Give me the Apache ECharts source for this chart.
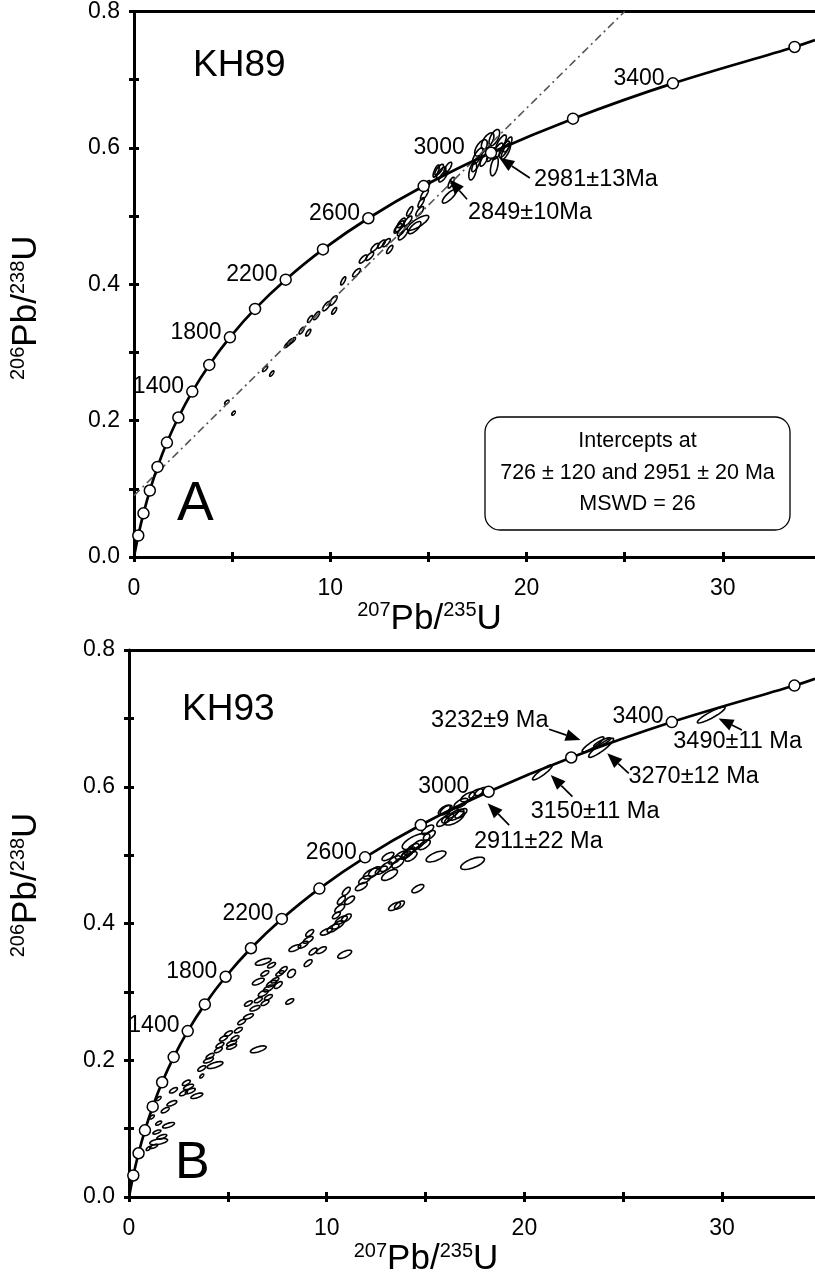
<!DOCTYPE html>
<html>
<head>
<meta charset="utf-8">
<script src="https://cdn.jsdelivr.net/npm/echarts@6/dist/echarts.min.js"></script>
<style>
html, body { margin: 0; padding: 0; background: #fff; }
#chart { width: 815px; height: 1279px; }
</style>
</head>
<body>
<div id="chart"></div>
<script>
// concordia: markers every 200 Ma, curve starts at origin and runs to the frame edge
const concAges = [0, 200, 400, 600, 800, 1000, 1200, 1400, 1600, 1800, 2000, 2200, 2400, 2600, 2800, 3000, 3200, 3400, 3600, null];
const conc207 = [0, 0.218, 0.483, 0.806, 1.199, 1.677, 2.260, 2.970, 3.835, 4.887, 6.168, 7.729, 9.629, 11.94, 14.76, 18.19, 22.37, 27.46, 33.66, 34.7];
const conc206 = [0, 0.0315, 0.0640, 0.0975, 0.1321, 0.1678, 0.2046, 0.2426, 0.2817, 0.3221, 0.3638, 0.4067, 0.4511, 0.4968, 0.5440, 0.5927, 0.6428, 0.6946, 0.7480, 0.758];
const labeledAges = [1400, 1800, 2200, 2600, 3000, 3400];

const xTicks = [0, 5, 10, 15, 20, 25, 30];
const xLabels = [0, 10, 20, 30];
const yTicks = [0, 0.1, 0.2, 0.3, 0.4, 0.5, 0.6, 0.7, 0.8];
const yLabels = [0, 0.2, 0.4, 0.6, 0.8];

// discordia through 726 and 2951 Ma (KH89)
const discordiaA = [[0, 0.090], [25.0, 0.80]];

// error ellipses: [207Pb/235U, 206Pb/238U, half-range x, half-range y, rho]
const ellipsesA = [
  [5.07, 0.211, 0.09, 0.003, 0.6], [4.73, 0.227, 0.11, 0.003, 0.6],
  [6.68, 0.276, 0.13, 0.004], [7.02, 0.269, 0.11, 0.004],
  [7.95, 0.315, 0.16, 0.005], [7.80, 0.311, 0.13, 0.004], [8.10, 0.318, 0.13, 0.004],
  [8.54, 0.332, 0.13, 0.005], [8.88, 0.329, 0.13, 0.005], [8.97, 0.349, 0.13, 0.005],
  [9.30, 0.354, 0.16, 0.006], [9.81, 0.368, 0.2, 0.007], [10.15, 0.376, 0.2, 0.007],
  [10.2, 0.361, 0.13, 0.005], [10.66, 0.405, 0.13, 0.006], [11.34, 0.417, 0.2, 0.006],
  [11.68, 0.437, 0.2, 0.006], [12.01, 0.441, 0.2, 0.006], [12.27, 0.454, 0.2, 0.006],
  [12.61, 0.459, 0.2, 0.006], [12.86, 0.461, 0.2, 0.006], [13.03, 0.451, 0.16, 0.006],
  [13.54, 0.485, 0.22, 0.008], [13.45, 0.482, 0.2, 0.007], [13.62, 0.490, 0.2, 0.007],
  [13.62, 0.478, 0.2, 0.007], [13.71, 0.473, 0.24, 0.008], [13.96, 0.493, 0.2, 0.007],
  [14.05, 0.507, 0.16, 0.007], [14.56, 0.507, 0.2, 0.007], [14.47, 0.490, 0.55, 0.011, 0.8],
  [14.30, 0.483, 0.32, 0.009], [14.63, 0.520, 0.16, 0.007], [14.80, 0.532, 0.2, 0.008],
  [14.89, 0.544, 0.2, 0.008], [15.40, 0.566, 0.16, 0.009], [15.65, 0.563, 0.24, 0.009],
  [15.75, 0.558, 0.22, 0.008], [15.55, 0.568, 0.22, 0.008], [15.99, 0.571, 0.2, 0.008],
  [16.16, 0.549, 0.16, 0.008], [16.07, 0.529, 0.36, 0.010, 0.8],
  [17.68, 0.600, 0.32, 0.012, 0.6], [18.02, 0.610, 0.32, 0.012, 0.6], [18.36, 0.615, 0.27, 0.012, 0.6],
  [18.53, 0.595, 0.27, 0.012], [18.87, 0.598, 0.27, 0.012], [17.51, 0.588, 0.27, 0.012],
  [17.85, 0.583, 0.22, 0.01], [18.19, 0.590, 0.22, 0.01], [18.36, 0.573, 0.2, 0.014, 0.5],
  [17.26, 0.566, 0.2, 0.013, 0.5], [17.43, 0.576, 0.22, 0.011], [18.70, 0.607, 0.27, 0.012],
  [18.95, 0.595, 0.24, 0.012], [19.04, 0.605, 0.22, 0.011]
];

const ellipsesB = [
  [1.50, 0.081, 0.45, 0.0045, 0.5], [1.25, 0.074, 0.2, 0.003], [0.99, 0.071, 0.12, 0.003],
  [1.66, 0.088, 0.25, 0.0035], [1.41, 0.095, 0.2, 0.003], [2.00, 0.105, 0.3, 0.004],
  [1.50, 0.108, 0.15, 0.003], [1.16, 0.117, 0.12, 0.003], [1.83, 0.127, 0.2, 0.004],
  [2.17, 0.137, 0.25, 0.004], [1.50, 0.144, 0.12, 0.003], [2.25, 0.156, 0.2, 0.004],
  [3.01, 0.161, 0.25, 0.004], [2.90, 0.167, 0.2, 0.004], [3.10, 0.155, 0.25, 0.004],
  [3.43, 0.148, 0.3, 0.004], [2.76, 0.152, 0.2, 0.004], [3.68, 0.177, 0.1, 0.003],
  [3.68, 0.188, 0.2, 0.004], [4.35, 0.193, 0.4, 0.005], [4.02, 0.200, 0.25, 0.004],
  [4.10, 0.206, 0.2, 0.004], [4.52, 0.215, 0.2, 0.004], [4.60, 0.222, 0.2, 0.004],
  [4.78, 0.232, 0.2, 0.004], [5.03, 0.239, 0.2, 0.004], [5.19, 0.225, 0.25, 0.004],
  [5.36, 0.232, 0.2, 0.004], [5.19, 0.220, 0.25, 0.004], [5.53, 0.244, 0.2, 0.004],
  [5.70, 0.256, 0.2, 0.004], [6.04, 0.264, 0.25, 0.004], [6.54, 0.216, 0.4, 0.005],
  [6.04, 0.283, 0.2, 0.004], [6.37, 0.276, 0.25, 0.004], [6.54, 0.288, 0.2, 0.004],
  [6.88, 0.284, 0.2, 0.004], [6.79, 0.298, 0.25, 0.005], [7.05, 0.305, 0.25, 0.005],
  [7.21, 0.312, 0.25, 0.005], [7.38, 0.317, 0.2, 0.004], [7.63, 0.327, 0.2, 0.004],
  [6.54, 0.315, 0.3, 0.005], [6.87, 0.327, 0.2, 0.004], [7.55, 0.310, 0.2, 0.005],
  [8.22, 0.327, 0.2, 0.006, 0.4], [8.13, 0.286, 0.2, 0.004], [7.05, 0.292, 0.2, 0.004],
  [7.80, 0.332, 0.2, 0.005], [7.21, 0.339, 0.2, 0.004], [6.79, 0.344, 0.4, 0.005],
  [9.06, 0.342, 0.2, 0.005], [8.39, 0.364, 0.3, 0.005], [8.81, 0.369, 0.25, 0.005],
  [9.06, 0.376, 0.25, 0.005], [9.14, 0.386, 0.2, 0.005], [9.31, 0.359, 0.2, 0.005],
  [9.73, 0.361, 0.25, 0.005], [10.91, 0.355, 0.35, 0.006], [9.98, 0.388, 0.3, 0.005],
  [10.32, 0.393, 0.3, 0.006], [10.57, 0.398, 0.3, 0.006], [10.74, 0.405, 0.3, 0.006],
  [10.99, 0.408, 0.25, 0.006], [10.49, 0.412, 0.2, 0.005], [10.66, 0.422, 0.25, 0.006],
  [10.74, 0.434, 0.2, 0.006], [11.16, 0.434, 0.25, 0.006], [10.99, 0.447, 0.2, 0.006],
  [11.75, 0.454, 0.3, 0.006], [11.92, 0.464, 0.3, 0.006], [12.25, 0.473, 0.4, 0.008],
  [12.42, 0.476, 0.3, 0.007], [12.76, 0.478, 0.3, 0.006], [13.18, 0.471, 0.4, 0.008],
  [13.01, 0.483, 0.3, 0.007], [13.43, 0.425, 0.3, 0.006], [13.68, 0.427, 0.25, 0.006],
  [14.61, 0.451, 0.3, 0.006], [13.10, 0.498, 0.3, 0.006], [13.43, 0.493, 0.3, 0.006],
  [13.60, 0.488, 0.3, 0.007], [13.77, 0.500, 0.3, 0.006], [14.10, 0.503, 0.3, 0.007],
  [14.20, 0.506, 0.25, 0.006], [14.00, 0.500, 0.25, 0.006], [14.36, 0.510, 0.3, 0.007],
  [14.61, 0.515, 0.3, 0.007], [14.27, 0.498, 0.3, 0.007], [14.52, 0.520, 0.7, 0.012],
  [14.94, 0.515, 0.3, 0.007], [15.19, 0.529, 0.3, 0.007], [15.53, 0.498, 0.5, 0.008],
  [17.38, 0.488, 0.6, 0.009], [15.11, 0.537, 0.3, 0.007], [15.87, 0.549, 0.3, 0.007],
  [16.12, 0.554, 0.3, 0.007], [16.37, 0.561, 0.3, 0.007], [16.46, 0.554, 0.5, 0.010],
  [16.04, 0.566, 0.3, 0.007], [16.79, 0.561, 0.3, 0.007], [15.95, 0.566, 0.3, 0.007],
  [16.54, 0.559, 0.4, 0.008], [16.79, 0.576, 0.35, 0.007], [17.13, 0.585, 0.35, 0.007],
  [17.55, 0.590, 0.35, 0.007], [17.80, 0.593, 0.3, 0.006],
  [20.91, 0.621, 0.5, 0.011, 0.9],
  [23.47, 0.662, 0.55, 0.011, 0.9], [23.88, 0.657, 0.63, 0.014, 0.9], [23.94, 0.665, 0.43, 0.0066, 0.85],
  [29.45, 0.705, 0.7, 0.0117, 0.9]
];

// age annotations: text anchor (x, y), arrow from (x, y) to (x, y)
const notesA = ['2981±13Ma', '2849±10Ma'];
const notePosA = [
  [20.38, 0.554, 20.17, 0.5558, 18.61, 0.5855],
  [17.02, 0.505, 16.97, 0.5246, 16.07, 0.5539]
];
const notesB = ['3232±9 Ma', '3270±12 Ma', '3150±11 Ma', '2911±22 Ma', '3490±11 Ma'];
const notePosB = [
  [15.28, 0.6976, 21.25, 0.684, 22.84, 0.6684],
  [25.26, 0.6147, 25.28, 0.6197, 24.19, 0.6489],
  [20.32, 0.5635, 22.43, 0.5855, 21.33, 0.6172],
  [17.45, 0.5196, 19.23, 0.544, 18.14, 0.5758],
  [27.53, 0.6659, 31.0, 0.683, 29.82, 0.700]
];

const FONT = 'Liberation Sans, Arial, sans-serif';
const X_MAX = 34.7;
const axisLineStyle = { color: '#000', width: 3 };

const nameRich = {
  m: { fontSize: 35, fontFamily: FONT, color: '#000', lineHeight: 37 },
  s: { fontSize: 20, fontFamily: FONT, color: '#000', lineHeight: 22, verticalAlign: 'top' }
};

function xAxesFor(gi, nameGap, namePad) {
  return [
    {
      gridIndex: gi, type: 'value', min: 0, max: X_MAX, position: 'bottom',
      axisLine: { onZero: false, lineStyle: axisLineStyle },
      axisTick: { customValues: xTicks, length: 5, lineStyle: axisLineStyle },
      axisLabel: { customValues: xLabels, color: '#000', fontSize: 23, fontFamily: FONT, margin: 20 },
      splitLine: { show: false },
      name: '{s|207}{m|Pb/}{s|235}{m|U}', nameLocation: 'middle', nameGap: nameGap,
      nameTextStyle: { padding: namePad, rich: nameRich }
    },
    {
      gridIndex: gi, type: 'value', min: 0, max: X_MAX, position: 'bottom',
      axisLine: { show: false, onZero: false },
      axisTick: { customValues: xTicks, inside: true, length: 5, lineStyle: axisLineStyle },
      axisLabel: { show: false }, splitLine: { show: false }
    },
    {
      gridIndex: gi, type: 'value', min: 0, max: X_MAX, position: 'top',
      axisLine: { onZero: false, lineStyle: axisLineStyle },
      axisTick: { show: false }, axisLabel: { show: false }, splitLine: { show: false }
    }
  ];
}

function yAxesFor(gi, nameGap, namePad) {
  return [
    {
      gridIndex: gi, type: 'value', min: 0, max: 0.8, position: 'left',
      axisLine: { onZero: false, lineStyle: axisLineStyle },
      axisTick: { customValues: yTicks, length: 5, lineStyle: axisLineStyle },
      axisLabel: { customValues: yLabels, formatter: v => v.toFixed(1), color: '#000', fontSize: 23, fontFamily: FONT, margin: 14 },
      splitLine: { show: false },
      name: '{s|206}{m|Pb/}{s|238}{m|U}', nameLocation: 'middle', nameGap: nameGap, nameRotate: 90,
      nameTextStyle: { padding: namePad, rich: nameRich }
    },
    {
      gridIndex: gi, type: 'value', min: 0, max: 0.8, position: 'left',
      axisLine: { show: false, onZero: false },
      axisTick: { customValues: yTicks, inside: true, length: 5, lineStyle: axisLineStyle },
      axisLabel: { show: false }, splitLine: { show: false }
    }
  ];
}

function ellipseSeries(data, xi, yi, rhoDefault) {
  return {
    type: 'custom', xAxisIndex: xi, yAxisIndex: yi, clip: true, z: 2, silent: true,
    data: data,
    renderItem: function (params, api) {
      const e = data[params.dataIndex];
      const r = e.length > 4 ? e[4] : rhoDefault;
      const q = Math.sqrt(1 - r * r);
      const pts = [];
      for (let k = 0; k < 40; k++) {
        const t = k / 40 * Math.PI * 2;
        pts.push(api.coord([e[0] + e[2] * Math.cos(t), e[1] + e[3] * (r * Math.cos(t) + q * Math.sin(t))]));
      }
      return { type: 'polygon', shape: { points: pts }, style: { fill: 'none', stroke: '#000', lineWidth: 1.6 } };
    }
  };
}

function concordiaSeries(xi, yi, dist3000) {
  return {
    type: 'line', xAxisIndex: xi, yAxisIndex: yi, smooth: 0.35, z: 5, silent: true,
    symbol: 'circle', symbolSize: 11,
    lineStyle: { color: '#000', width: 2.7 },
    itemStyle: { color: '#fff', borderColor: '#000', borderWidth: 1.5 },
    data: concAges.map(function (a, i) {
      const item = { value: [conc207[i], conc206[i]] };
      if (a === null || a === 0) item.symbol = 'none';
      if (labeledAges.indexOf(a) >= 0) {
        item.label = {
          show: true, formatter: String(a), position: 'left',
          distance: a === 3000 ? dist3000 : 2, offset: [0, -5],
          fontSize: 23, fontFamily: FONT, color: '#000'
        };
      }
      return item;
    })
  };
}

function noteSeries(texts, pos, xi, yi) {
  return {
    type: 'custom', xAxisIndex: xi, yAxisIndex: yi, z: 6, silent: true,
    data: pos,
    renderItem: function (params, api) {
      const n = pos[params.dataIndex];
      const t = api.coord([n[0], n[1]]);
      const p0 = api.coord([n[2], n[3]]);
      const p1 = api.coord([n[4], n[5]]);
      const ang = Math.atan2(p1[1] - p0[1], p1[0] - p0[0]);
      const L = 15, W = 6;
      const c = Math.cos(ang), s = Math.sin(ang);
      const base = [p1[0] - L * c, p1[1] - L * s];
      return {
        type: 'group',
        children: [
          { type: 'text', x: t[0], y: t[1], style: { text: texts[params.dataIndex], fill: '#000', fontSize: 23.5, fontFamily: FONT, align: 'left', verticalAlign: 'middle' } },
          { type: 'line', shape: { x1: p0[0], y1: p0[1], x2: base[0], y2: base[1] }, style: { stroke: '#000', lineWidth: 1.7 } },
          { type: 'polygon', shape: { points: [p1, [base[0] + W * s, base[1] - W * c], [base[0] - W * s, base[1] + W * c]] }, style: { fill: '#000' } }
        ]
      };
    }
  };
}

const chart = echarts.init(document.getElementById('chart'), null, { renderer: 'canvas' });

chart.setOption({
  animation: false,
  backgroundColor: '#fff',
  grid: [
    { left: 132, right: 0, top: 10, height: 547 },
    { left: 127, right: 0, top: 650, height: 547 }
  ],
  xAxis: xAxesFor(0, 35, [0, 90, 0, 0]).concat(xAxesFor(1, 44, [0, 92, 0, 0])),
  yAxis: yAxesFor(0, 89, [0, 47, 0, 0]).concat(yAxesFor(1, 84, [0, 0, 0, 77])),
  series: [
    ellipseSeries(ellipsesA, 0, 0, 0.75),
    {
      type: 'line', xAxisIndex: 0, yAxisIndex: 0, data: discordiaA, symbol: 'none', z: 3, silent: true,
      lineStyle: { color: '#555', width: 1.6, type: [8, 4, 2, 4] }
    },
    concordiaSeries(0, 0, 20),
    noteSeries(notesA, notePosA, 0, 0),
    ellipseSeries(ellipsesB, 3, 2, 0.65),
    concordiaSeries(3, 2, 13),
    noteSeries(notesB, notePosB, 3, 2)
  ],
  graphic: [
    { type: 'text', x: 193, y: 66, style: { text: 'KH89', fontSize: 37, fontFamily: FONT, fill: '#000', verticalAlign: 'middle' } },
    { type: 'text', x: 177, y: 505, style: { text: 'A', fontSize: 55, fontFamily: FONT, fill: '#000', verticalAlign: 'middle' } },
    { type: 'text', x: 182, y: 710, style: { text: 'KH93', fontSize: 37, fontFamily: FONT, fill: '#000', verticalAlign: 'middle' } },
    { type: 'text', x: 175, y: 1164, style: { text: 'B', fontSize: 52, fontFamily: FONT, fill: '#000', verticalAlign: 'middle' } },
    { type: 'rect', shape: { x: 485, y: 417, width: 305, height: 113, r: 15 }, style: { fill: '#fff', stroke: '#000', lineWidth: 1.3 }, z: 10 },
    { type: 'text', x: 637.5, y: 441, z: 11, style: { text: 'Intercepts at', fontSize: 21.5, fontFamily: FONT, fill: '#000', align: 'center', verticalAlign: 'middle' } },
    { type: 'text', x: 637.5, y: 473.5, z: 11, style: { text: '726 ± 120 and 2951 ± 20 Ma', fontSize: 21.5, fontFamily: FONT, fill: '#000', align: 'center', verticalAlign: 'middle' } },
    { type: 'text', x: 637.5, y: 504, z: 11, style: { text: 'MSWD = 26', fontSize: 21.5, fontFamily: FONT, fill: '#000', align: 'center', verticalAlign: 'middle' } }
  ]
});
</script>
</body>
</html>
